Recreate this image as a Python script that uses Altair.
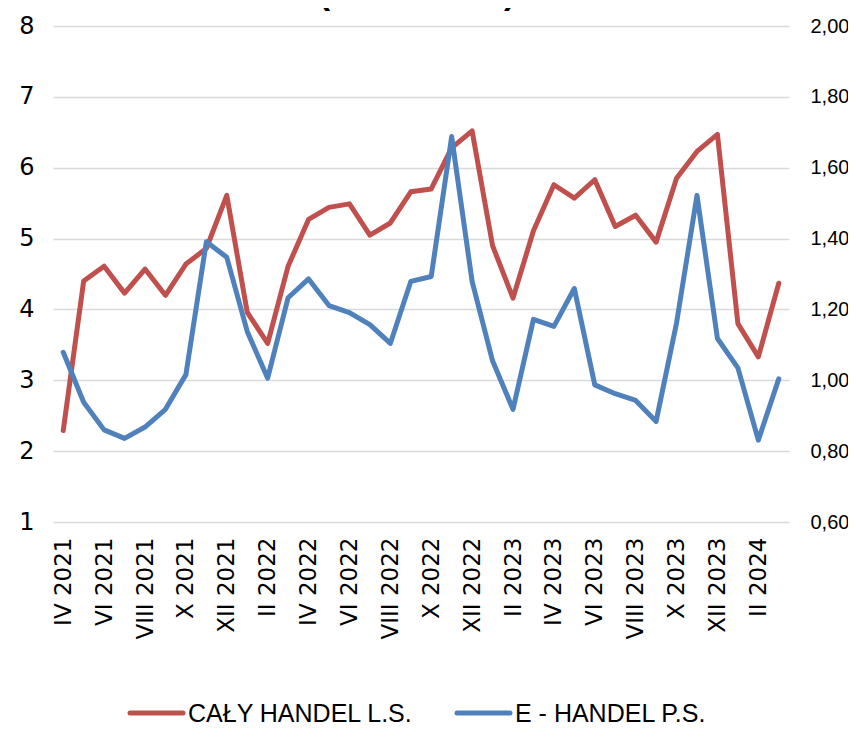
import altair as alt
import pandas as pd

months = ["IV 2021", "V 2021", "VI 2021", "VII 2021", "VIII 2021", "IX 2021",
          "X 2021", "XI 2021", "XII 2021", "I 2022", "II 2022", "III 2022",
          "IV 2022", "V 2022", "VI 2022", "VII 2022", "VIII 2022", "IX 2022",
          "X 2022", "XI 2022", "XII 2022", "I 2023", "II 2023", "III 2023",
          "IV 2023", "V 2023", "VI 2023", "VII 2023", "VIII 2023", "IX 2023",
          "X 2023", "XI 2023", "XII 2023", "I 2024", "II 2024", "III 2024"]

tick_labels = ["IV 2021", "VI 2021", "VIII 2021", "X 2021", "XII 2021",
               "II 2022", "IV 2022", "VI 2022", "VIII 2022", "X 2022", "XII 2022",
               "II 2023", "IV 2023", "VI 2023", "VIII 2023", "X 2023", "XII 2023",
               "II 2024"]

caly_handel = [2.29, 4.40, 4.61, 4.23, 4.57, 4.20, 4.64, 4.86, 5.61, 3.96, 3.52, 4.61,
               5.27, 5.44, 5.49, 5.05, 5.22, 5.66, 5.70, 6.28, 6.52, 4.90, 4.16, 5.11,
               5.76, 5.57, 5.83, 5.17, 5.33, 4.95, 5.85, 6.23, 6.47, 3.80, 3.33, 4.37]

e_handel = [1.079, 0.938, 0.860, 0.836, 0.868, 0.918, 1.016, 1.391, 1.347, 1.138, 1.006, 1.233,
            1.286, 1.211, 1.191, 1.157, 1.104, 1.279, 1.293, 1.688, 1.279, 1.055, 0.918, 1.172,
            1.152, 1.259, 0.987, 0.962, 0.943, 0.884, 1.162, 1.522, 1.118, 1.035, 0.831, 1.004]

series_names = ["CAŁY HANDEL L.S.", "E - HANDEL P.S."]
series_colors = ["#c0504d", "#4f81bd"]

left_ticks = [1, 2, 3, 4, 5, 6, 7, 8]
right_ticks = [0.6, 0.8, 1.0, 1.2, 1.4, 1.6, 1.8, 2.0]
title_text = "(w mld PLN)"

df = pd.DataFrame({
    "month": months,
    "total": caly_handel,
    "ecom": e_handel,
})

x_enc = alt.X(
    "month:O", sort=months,
    scale=alt.Scale(type="point", padding=0.5),
    axis=alt.Axis(values=tick_labels, labelAngle=270, title=None, ticks=False,
                  domain=False, grid=False, labelFont="DejaVu Sans", labelFontSize=23,
                  labelColor="#000000", labelPadding=15, labelOverlap=False,
                  labelBound=False, labelFlush=False),
)

base = alt.Chart(df)

line_total = base.mark_line(strokeWidth=5, strokeJoin="round", strokeCap="round",
                            color=series_colors[0]).encode(
    x=x_enc,
    y=alt.Y("total:Q",
            scale=alt.Scale(domain=[1, 8], nice=False, zero=False),
            axis=alt.Axis(values=left_ticks, title=None, grid=True, gridColor="#d9d9d9",
                          gridWidth=1.5, domain=False, ticks=False, format="d",
                          labelFont="DejaVu Sans", labelFontSize=24, labelColor="#000000",
                          labelPadding=19)),
)

line_ecom = base.mark_line(strokeWidth=5, strokeJoin="round", strokeCap="round",
                           color=series_colors[1]).encode(
    x=x_enc,
    y=alt.Y("ecom:Q",
            scale=alt.Scale(domain=[0.6, 2.0], nice=False, zero=False),
            axis=alt.Axis(values=right_ticks, orient="right", title=None, grid=False,
                          domain=False, ticks=False,
                          labelExpr="replace(format(datum.value, '.2f'), '.', ',')",
                          labelFont="Liberation Sans", labelFontSize=20,
                          labelColor="#000000", labelPadding=21)),
)

title_mark = alt.Chart(pd.DataFrame({"t": [title_text]})).mark_text(
    font="Liberation Sans", fontSize=34, fontWeight="bold", baseline="alphabetic",
    align="center", color="#000000",
).encode(text="t:N", x=alt.value(364), y=alt.value(-22))

# legend (manual, positioned below the axis labels)
legend_y = 687
legend_layers = []
for name, col, x0 in zip(series_names, series_colors, [75, 402]):
    ldf = pd.DataFrame({"name": [name]})
    sw = alt.Chart(ldf).mark_rule(strokeWidth=5, strokeCap="round", color=col).encode(
        x=alt.value(x0 + 2), x2=alt.value(x0 + 55), y=alt.value(legend_y))
    tx = alt.Chart(ldf).mark_text(font="Liberation Sans", fontSize=25, align="left",
                                  baseline="middle", color="#000000").encode(
        text="name:N", x=alt.value(x0 + 60), y=alt.value(legend_y + 1))
    legend_layers += [sw, tx]

chart = alt.layer(line_total, line_ecom, title_mark, *legend_layers).resolve_scale(
    y="independent"
).properties(
    width=736, height=496,
    autosize=alt.AutoSizeParams(type="none"),
    padding={"left": 45, "top": 18, "right": 59, "bottom": 205},
    background="white",
).configure_view(stroke=None)

chart.save("out.html", embed_options={"renderer": "svg", "actions": False})
